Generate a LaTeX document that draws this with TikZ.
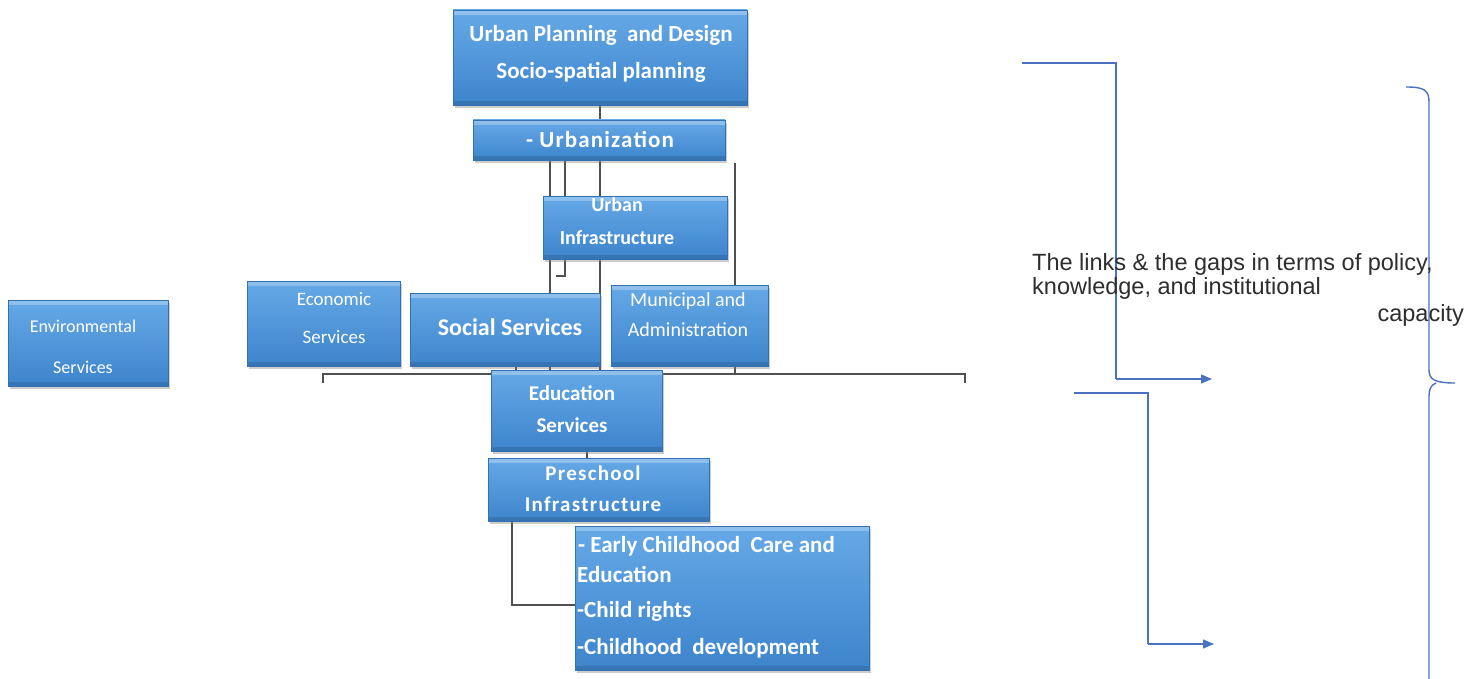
\documentclass[tikz,border=0pt]{standalone}
\usepackage{fontspec}
\setmainfont{Carlito}
\newfontfamily\arialf{Liberation Sans}
\usetikzlibrary{arrows.meta,shadows}
\pgfdeclarelayer{background}
\pgfsetlayers{background,main}
\definecolor{boxtop}{HTML}{66A9E7}
\definecolor{boxbot}{HTML}{3D84CC}
\definecolor{boxedge}{HTML}{3371B2}
\definecolor{conn}{HTML}{505050}
\definecolor{rline}{HTML}{4A72C0}
\definecolor{rtext}{HTML}{2E2E2E}
\begin{document}
\begin{tikzpicture}[x=1pt,y=-1pt,
  bx/.style={draw=boxedge, line width=0.8pt, top color=boxtop, bottom color=boxbot,
    drop shadow={shadow xshift=2pt, shadow yshift=-3pt, opacity=0.4},
    path picture={\fill[white,opacity=0.28] (path picture bounding box.north west) rectangle ([yshift=-5pt]path picture bounding box.north east);
                  \fill[black,opacity=0.12] (path picture bounding box.south west) rectangle ([yshift=4pt]path picture bounding box.south east);},
    inner sep=0pt, outer sep=0pt},
  tw/.style={text=white, align=center, inner sep=0pt},
  cn/.style={draw=conn, line width=1.1pt},
  rl/.style={draw=rline, line width=1.4pt},
  tip/.style={-{Triangle[length=11pt,width=9pt]}},
  rt/.style={text=rtext, inner sep=0pt, font=\arialf\fontsize{23.5}{24}\selectfont}
]
\useasboundingbox (0,0) rectangle (1479,679);
\begin{pgfonlayer}{background}
\fill[white] (0,0) rectangle (1479,679);
\end{pgfonlayer}

% ---------- boxes ----------
\node[bx, minimum width=294pt, minimum height=95pt] (plan) at (600,57.5) {};
\node[tw, font=\fontsize{23}{37}\selectfont\bfseries] (planT) at (601,54) {Urban Planning\ \ and Design\\Socio-spatial planning};

\node[bx, minimum width=252pt, minimum height=40pt] (urb) at (599,140) {};
\node[tw, font=\fontsize{23}{23}\selectfont\bfseries\addfontfeatures{LetterSpace=5}] (urbT) at (600,139) {- Urbanization};

\node[bx, minimum width=184pt, minimum height=63pt] (uinf) at (635,227.5) {};
\node[tw, font=\fontsize{20}{33}\selectfont\bfseries] (uinfT) at (617,221) {Urban\\Infrastructure};

\node[bx, minimum width=153pt, minimum height=85pt] (econ) at (323.5,323.5) {};
\node[tw, font=\fontsize{19}{38}\selectfont] (econT) at (334,318) {Economic\\Services};

\node[bx, minimum width=190pt, minimum height=73pt] (soc) at (505,329.5) {};
\node[tw, font=\fontsize{24}{24}\selectfont\bfseries] (socT) at (510,327) {Social Services};

\node[bx, minimum width=157pt, minimum height=81pt] (muni) at (689.5,325.5) {};
\node[tw, font=\fontsize{20}{30}\selectfont] (muniT) at (688,315) {Municipal and\\Administration};

\node[bx, minimum width=160pt, minimum height=86pt] (env) at (88,343) {};
\node[tw, font=\fontsize{18}{41}\selectfont] (envT) at (83,347) {Environmental\\Services};

\node[bx, minimum width=171pt, minimum height=81pt] (edu) at (576.5,410.5) {};
\node[tw, font=\fontsize{21}{32}\selectfont\bfseries] (eduT) at (572,409) {Education\\Services};

\node[bx, minimum width=221pt, minimum height=63pt] (pre) at (598.5,489.5) {};
\node[tw, font=\fontsize{21}{31}\selectfont\bfseries\addfontfeatures{LetterSpace=6}] (preT) at (593,489) {Preschool\\Infrastructure};

\node[bx, minimum width=294pt, minimum height=144pt] (ecce) at (722,598) {};
\node[tw, anchor=west, font=\fontsize{23}{23}\selectfont\bfseries] (ecce1) at (578,546) {- Early Childhood\ \ Care and};
\node[tw, anchor=west, font=\fontsize{23}{23}\selectfont\bfseries] (ecce2) at (577,574) {Education};
\node[tw, anchor=west, font=\fontsize{23}{23}\selectfont\bfseries] (ecce3) at (577,611) {-Child rights};
\node[tw, anchor=west, font=\fontsize{23}{23}\selectfont\bfseries] (ecce4) at (577,648) {-Childhood\ \ development};

% ---------- helper coordinates ----------
\coordinate (c512) at (512,0);
\coordinate (c516) at (516,0);
\coordinate (c550) at (550,0);
\coordinate (c565) at (565,0);
\coordinate (c587) at (587,0);
\coordinate (c600) at (600,0);
\coordinate (c735) at (735,0);
\coordinate (hb) at (0,374);
\coordinate (hbL) at (323,383);
\coordinate (hbR) at (965,383);
\coordinate (m0) at (735,163);
\coordinate (c605) at (0,605);

% ---------- connectors (behind boxes) ----------
\begin{pgfonlayer}{background}
\draw[cn] (plan.south) -- (plan.south |- urb.north);
\draw[cn] (urb.south -| c550) -- (soc.north -| c550);
\draw[cn] (urb.south -| c565) -- ++(0,116) -- ++(-9,0);
\draw[cn] (urb.south -| c600) -- (soc.north -| c600);
\draw[cn] (m0) -- (m0 |- muni.north);
\draw[cn] (hbL) |- (hb -| hbR) -- (hbR);
\draw[cn] (soc.south -| c516) -- (hb -| c516);
\draw[cn] (soc.south -| c550) -- (hb -| c550);
\draw[cn] (soc.south -| c600) -- (edu.north -| c600);
\draw[cn] (muni.south -| c735) -- (hb -| c735);
\draw[cn] (edu.south -| c587) -- (pre.north -| c587);
\draw[cn] (pre.south -| c512) |- (ecce.west |- c605);
\end{pgfonlayer}

% ---------- right side ----------
\coordinate (r1s) at (1022,63);
\coordinate (r1k) at (1116,379);
\coordinate (r1e) at (1212,379);
\coordinate (r2s) at (1074,393);
\coordinate (r2k) at (1148,644);
\coordinate (r2e) at (1214,644);
\draw[rl] (r1s) -| (r1k);
\draw[rl,tip] (r1k) -- (r1e);
\draw[rl] (r2s) -| (r2k);
\draw[rl,tip] (r2k) -- (r2e);

\draw[rl] (1406,87) .. controls (1424,87) and (1429,90) .. (1429,102)
  -- (1429,370) .. controls (1429,379) and (1434,383) .. (1455,383);
\draw[rl] (1436,383) .. controls (1431,385) and (1429,389) .. (1429,396) -- (1429,679);

\node[rt, anchor=base west] (gap1) at (1032,270) {The links \& the gaps in terms of policy,};
\node[rt, anchor=base west] (gap2) at (1032,294) {knowledge, and institutional};
\node[rt, anchor=base east] (gap3) at (1464,321) {capacity};
\end{tikzpicture}
\end{document}
